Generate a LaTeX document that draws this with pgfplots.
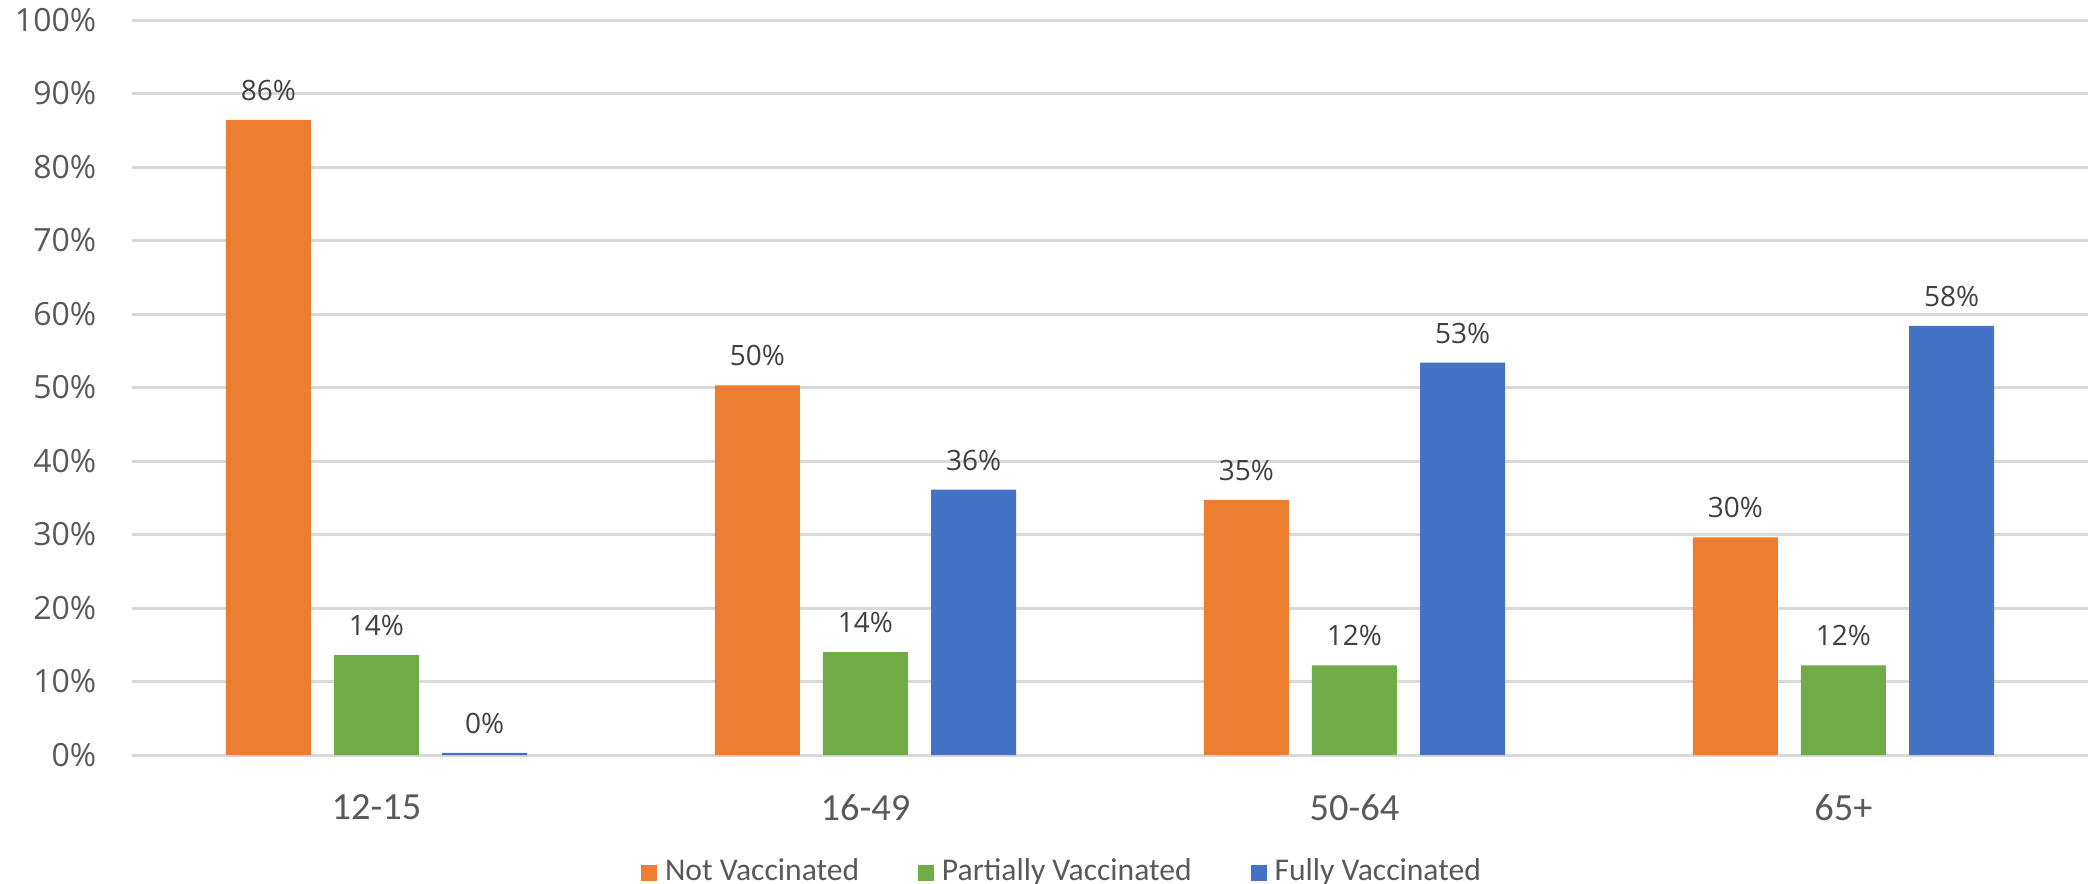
\documentclass[border=0pt]{standalone}
\usepackage{pgfplots}
\pgfplotsset{compat=1.18}
\usepackage{fontspec}
\setmainfont{Carlito}
\newfontfamily\osans{Open Sans}
\definecolor{cOrange}{HTML}{ED7D31}
\definecolor{cGreen}{HTML}{70AD47}
\definecolor{cBlue}{HTML}{4472C4}
\definecolor{cGrid}{HTML}{D9D9D9}
\definecolor{cTick}{HTML}{595959}
\definecolor{cLabel}{HTML}{404040}
\begin{document}
\begin{tikzpicture}
\path[use as bounding box] (-33pt,-32pt) rectangle (490.25pt,188.75pt);
\begin{axis}[
  scale only axis, width=489pt, height=183.75pt,
  at={(0,0)}, anchor=south west,
  ybar, bar width=0.1738, bar shift auto,
  xmin=-0.5, xmax=3.5, ymin=0, ymax=100,
  xtick={0,1,2,3}, xticklabels={12-15,16-49,50-64,65+},
  ytick={0,10,...,100},
  major tick length=0pt,
  axis line style={draw=none},
  ymajorgrids, major grid style={cGrid, line width=0.75pt},
  /pgf/number format/assume math mode=true,
  yticklabel={\pgfmathprintnumber{\tick}\%},
  yticklabel style={font=\osans\fontsize{8}{9}\selectfont, text=cTick, inner sep=0pt, anchor=east, xshift=-8.75pt},
  xticklabel style={font=\fontsize{9.6}{10}\selectfont, text=cTick, inner sep=0pt, anchor=north, yshift=-9.7pt},
  nodes near coords={\pgfmathprintnumber[fixed,precision=0]{\pgfplotspointmeta}\%},
  nodes near coords style={font=\osans\fontsize{7}{8}\selectfont, text=cLabel, anchor=south, inner sep=0pt, yshift=4.6pt},
  legend columns=3,
  legend style={draw=none, at={(0.477,-0.16)}, anchor=center, font=\fontsize{7.9}{9}\selectfont, text=cTick,
    /tikz/every even column/.append style={column sep=12.7pt}},
  legend image code/.code={\fill[#1] (0pt,-2pt) rectangle (4pt,2pt);},
]
\addplot[draw=none, fill=cOrange, /pgfplots/bar shift=-0.221] coordinates {(0,86.4) (1,50.3) (2,34.7) (3,29.6)};
\addplot[draw=none, fill=cGreen, /pgfplots/bar shift=0] coordinates {(0,13.6) (1,14.0) (2,12.2) (3,12.2)};
\addplot[draw=none, fill=cBlue, /pgfplots/bar shift=0.221] coordinates {(0,0.3) (1,36.1) (2,53.4) (3,58.4)};
\legend{Not Vaccinated, Partially Vaccinated, Fully Vaccinated}
\end{axis}
\end{tikzpicture}
\end{document}
